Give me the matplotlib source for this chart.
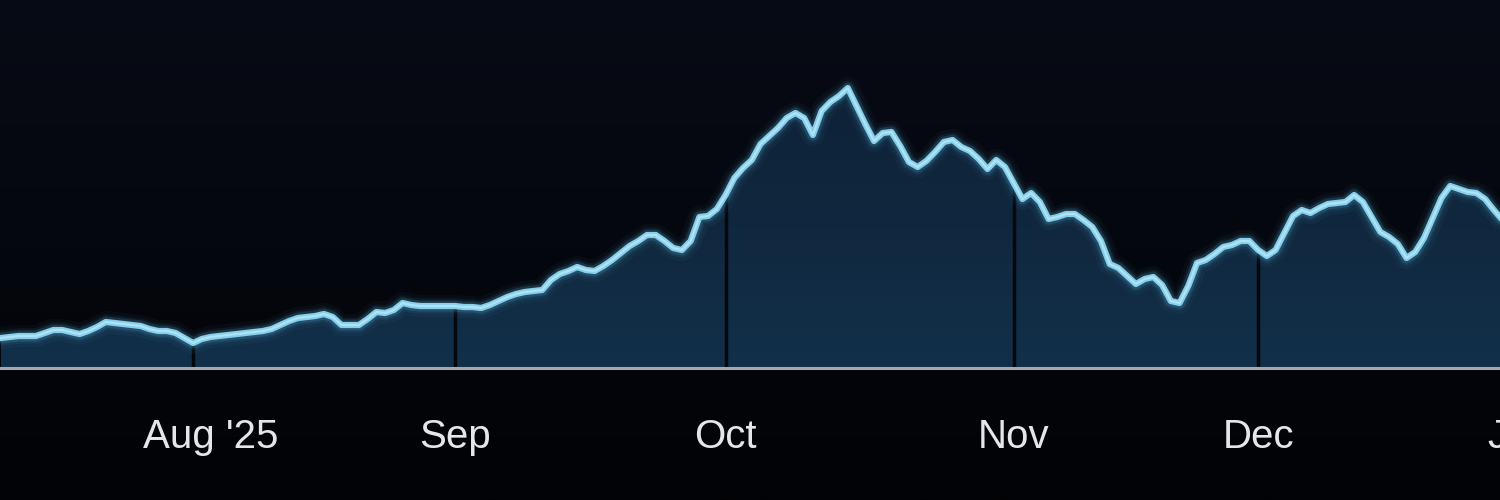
import numpy as np
import matplotlib
matplotlib.use("Agg")
import matplotlib.pyplot as plt
from matplotlib.colors import LinearSegmentedColormap
from matplotlib.patches import Polygon
import matplotlib.transforms as mtransforms

# ---- data (daily values) ----
values = [30, 31, 32, 32, 32, 35, 38, 38, 36, 34, 37, 41, 46, 45, 44, 43, 42, 39, 37, 37,
          35, 30, 25, 29, 31, 32, 33, 34, 35, 36, 37, 39, 43, 47, 50, 51, 52, 54, 51, 43,
          43, 43, 49, 56, 55, 58, 65, 63, 62, 62, 62, 62, 62, 61, 61, 60, 63, 67, 71, 74,
          76, 77, 78, 88, 94, 97, 101, 98, 97, 102, 108, 115, 122, 127, 133, 133, 127, 120, 118, 127,
          151, 152, 159, 173, 190, 200, 208, 224, 232, 240, 250, 255, 250, 233, 257, 266, 272, 280, 262, 244,
          227, 235, 236, 222, 206, 201, 207, 216, 226, 228, 221, 217, 209, 199, 208, 201, 185, 169, 175, 166,
          149, 151, 154, 154, 148, 141, 127, 104, 100, 92, 84, 89, 91, 83, 67, 65, 82, 105, 108, 114,
          121, 123, 127, 127, 118, 112, 118, 135, 152, 158, 155, 160, 164, 165, 166, 173, 166, 151, 136, 131,
          124, 110, 116, 130, 150, 170, 182, 179, 176, 175, 169, 158, 148]
month_starts = [22, 52, 83, 116, 144, 174]          # day index of the 1st of each month
month_labels = ["Aug '25", "Sep", "Oct", "Nov", "Dec", "Jan"]

idx = np.arange(len(values))
vals = np.array(values, dtype=float)

fig = plt.figure(figsize=(15, 5), dpi=100)
fig.patch.set_facecolor("#04060b")

# background gradient
bg = fig.add_axes([0, 0, 1, 1], zorder=0)
bg.axis("off")
grad = np.linspace(0, 1, 256).reshape(-1, 1)
bg.imshow(grad, cmap=LinearSegmentedColormap.from_list("bg", ["#070b15", "#05070e", "#020306"]),
          aspect="auto", extent=[0, 1, 0, 1])
bg.set_xlim(0, 1); bg.set_ylim(0, 1)

x0, x1 = -0.115, 177.0
ax = fig.add_axes([0, 0.264, 1.0308, 0.736], zorder=1)
ax.patch.set_alpha(0)

# gradient fill under the curve
verts = [(idx[0], 0)] + list(zip(idx, vals)) + [(idx[-1], 0)]
poly = Polygon(verts, closed=True, facecolor="none", edgecolor="none")
ax.add_patch(poly)
fill_cmap = LinearSegmentedColormap.from_list("fill", ["#0e2237", "#10283f", "#12304a"])
im = ax.imshow(grad, cmap=fill_cmap, aspect="auto",
               extent=[idx[0], idx[-1], 0, vals.max()], zorder=2, interpolation="bilinear")
im.set_clip_path(poly)

# month separators (only under the curve)
for m in month_starts:
    if m < len(values):
        ax.vlines(m, 0, vals[m] - 2, color="#04070c", lw=2.5, zorder=3)

# baseline
ax.axhline(0, color="#a3a9b0", lw=2.2, zorder=4, clip_on=False)

# glowing line
for lw, a in [(16, 0.04), (11, 0.07), (8, 0.16)]:
    ax.plot(idx, vals, color="#5ec4f0", lw=lw, alpha=a, solid_joinstyle="round",
            solid_capstyle="round", zorder=5)
ax.plot(idx, vals, color="#86cfea", lw=4.5, zorder=6, solid_joinstyle="round")
ax.plot(idx, vals, color="#aee2f4", lw=1.7, zorder=7, solid_joinstyle="round")

ax.set_xlim(x0, x1)
ax.set_ylim(0, 368)
for s in ax.spines.values():
    s.set_visible(False)
ax.set_yticks([])
ax.set_xticks(month_starts, month_labels)
ax.tick_params(axis="x", length=0, pad=36, labelsize=29, labelcolor="#e4e7ea")
for lab in ax.get_xticklabels():
    lab.set_fontfamily("Liberation Sans")
first = ax.get_xticklabels()[0]
first.set_transform(first.get_transform() + mtransforms.ScaledTranslation(0.18, 0, fig.dpi_scale_trans))

fig.savefig("out.png", dpi=100, facecolor=fig.get_facecolor())
